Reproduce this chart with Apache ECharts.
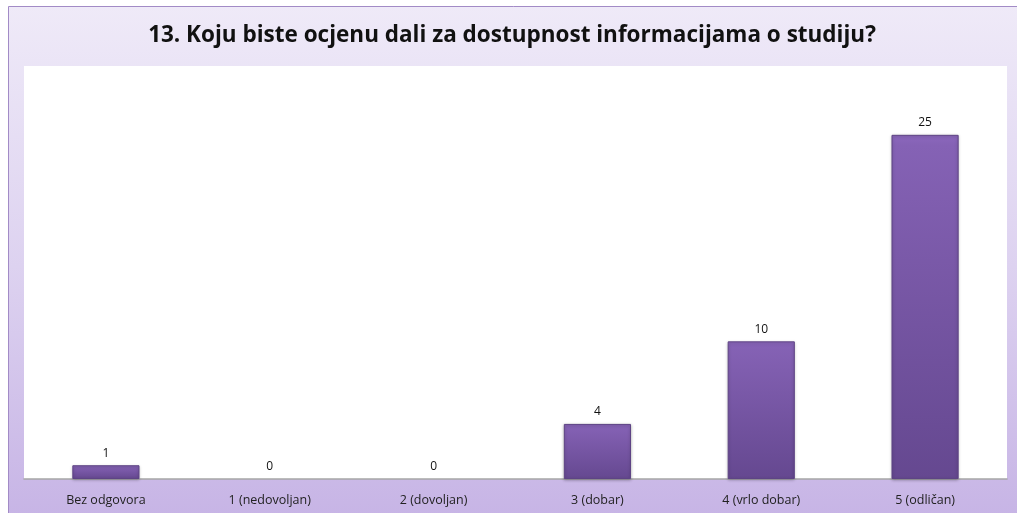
<!DOCTYPE html>
<html>
<head>
<meta charset="utf-8">
<script src="https://cdn.jsdelivr.net/npm/echarts@6/dist/echarts.min.js"></script>
<style>
  html, body { margin: 0; padding: 0; background: #fff; }
  #chart { width: 1017px; height: 513px; }
</style>
</head>
<body>
<div id="chart"></div>
<script>
  // podaci
  var titleText = '13. Koju biste ocjenu dali za dostupnost informacijama o studiju?';
  var categories = ['Bez odgovora', '1 (nedovoljan)', '2 (dovoljan)', '3 (dobar)', '4 (vrlo dobar)', '5 (odličan)'];
  var values = [1, 0, 0, 4, 10, 25];

  // stupci s nulom nemaju obrub
  var barData = values.map(function (v) {
    if (v === 0) {
      return { value: v, itemStyle: { borderWidth: 0, shadowBlur: 0, opacity: 0 } };
    }
    return v;
  });

  var myChart = echarts.init(document.getElementById('chart'));
  myChart.setOption({
    animation: false,
    backgroundColor: '#ffffff',
    textStyle: { fontFamily: '"Open Sans", sans-serif' },
    graphic: [
      {
        type: 'rect',
        z: -10,
        silent: true,
        shape: { x: 8.5, y: 6.5, width: 1020, height: 520 },
        style: {
          fill: new echarts.graphic.LinearGradient(0, 0, 0, 1, [
            { offset: 0, color: '#efeaf8' },
            { offset: 0.5, color: '#ddd2f0' },
            { offset: 1, color: '#c6b3e5' }
          ]),
          stroke: '#a28bc6',
          lineWidth: 1
        }
      }
    ],
    title: {
      text: titleText,
      left: 507,
      textAlign: 'center',
      top: 19,
      textStyle: {
        fontSize: 22.5,
        fontWeight: 'bold',
        color: '#111',
        fontFamily: '"Open Sans", sans-serif'
      }
    },
    grid: {
      left: 24,
      right: 10,
      top: 66,
      bottom: 34,
      show: true,
      backgroundColor: '#ffffff',
      borderWidth: 0
    },
    xAxis: {
      type: 'category',
      data: categories,
      axisLine: { lineStyle: { color: '#a6a6a6', width: 1.5 } },
      axisTick: { show: false },
      axisLabel: { color: '#222', fontSize: 12.5, margin: 15 }
    },
    yAxis: {
      type: 'value',
      min: 0,
      max: 30,
      show: false,
      splitLine: { show: false }
    },
    series: [{
      type: 'bar',
      data: barData,
      barWidth: '41%',
      itemStyle: {
        color: new echarts.graphic.LinearGradient(0, 0, 0, 1, [
          { offset: 0, color: '#8c68bd' },
          { offset: 0.03, color: '#8562b5' },
          { offset: 1, color: '#654890' }
        ]),
        borderColor: '#5e4485',
        borderWidth: 1,
        shadowColor: 'rgba(0,0,0,0.25)',
        shadowBlur: 3,
        shadowOffsetY: 1
      },
      label: {
        show: true,
        position: 'top',
        distance: 6,
        color: '#111',
        fontSize: 12,
        opacity: 1
      }
    }]
  });
</script>
</body>
</html>
